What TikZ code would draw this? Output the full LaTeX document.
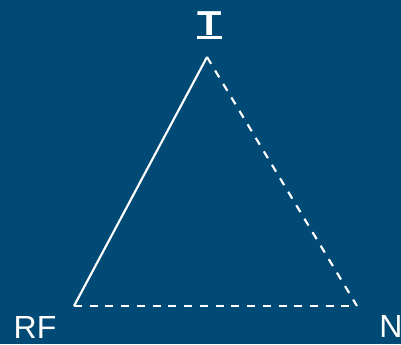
\documentclass[tikz,border=0pt]{standalone}
\usepackage{fontspec}
\usepackage{graphicx}
\setmainfont{Liberation Sans}
\usetikzlibrary{positioning,backgrounds}
\definecolor{deepblue}{HTML}{014A75}

\newcommand{\thickul}[1]{\setbox0\hbox{\scalebox{1.15}[1]{#1}}\rlap{\rule[-3pt]{\wd0}{1.9pt}}\box0}

\begin{document}
\begin{tikzpicture}[x=0.75pt, y=-0.75pt,
  corner/.style={font=\fontsize{24}{29}\selectfont, text=white, anchor=base, inner sep=0pt},
  solidside/.style={white, line width=1.6pt},
  dashside/.style={white, line width=1.6pt, dash pattern=on 6pt off 5.8pt},
]

% ── Frame ───────────────────────────────────────────────────────────────
\fill[deepblue] (0,0) rectangle (401,344);
\useasboundingbox (0,0) rectangle (401,344);

% ── Vertices and labels ─────────────────────────────────────────────────
\coordinate (vt) at (207,57);
\coordinate (vrf) at (74,306);
\coordinate (vn) at (357,306);
\node[corner, font=\fontsize{26}{31}\selectfont\bfseries] (lt) at (209.5,35) {\thickul{T}};
\node[corner] (lrf) at (35,338) {RF};
\node[corner] (ln) at (391,337) {N};

% ── Sides ───────────────────────────────────────────────────────────────
\draw[solidside] (vrf) -- (vt);
\draw[dashside] (vt) -- (vn);
\draw[dashside] (vrf) -- (vn);

\end{tikzpicture}
\end{document}
